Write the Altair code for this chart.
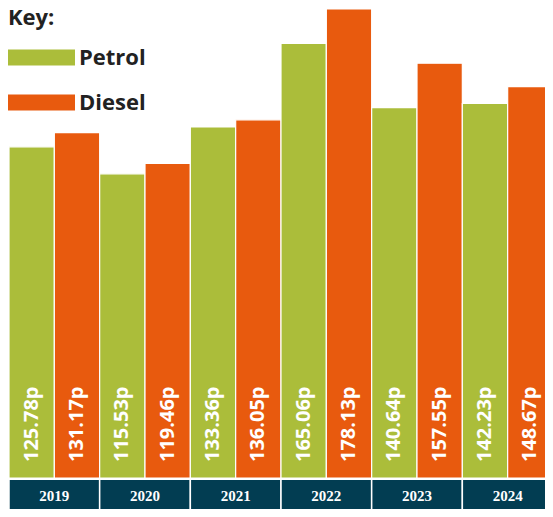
import altair as alt
import pandas as pd

years = ["2019", "2020", "2021", "2022", "2023", "2024"]
petrol = [125.78, 115.53, 133.36, 165.06, 140.64, 142.23]
diesel = [131.17, 119.46, 136.05, 178.13, 157.55, 148.67]
fuels = ["Petrol", "Diesel"]
colors = ["#abbd3a", "#e85a0e"]
band_color = "#023d52"

rows = []
for i, y in enumerate(years):
    rows.append({"year": y, "fuel": "Petrol", "price": petrol[i], "label": f"{petrol[i]:.2f}p"})
    rows.append({"year": y, "fuel": "Diesel", "price": diesel[i], "label": f"{diesel[i]:.2f}p"})
df = pd.DataFrame(rows)
years_df = pd.DataFrame({"year": years})

Y_MIN = -11.77
Y_MAX = 178.51

x_enc = alt.X("year:N", sort=years, axis=None,
              scale=alt.Scale(paddingInner=0, paddingOuter=0, range=[0, 544]))
xoff = alt.XOffset("fuel:N", sort=fuels, scale=alt.Scale(paddingInner=0, paddingOuter=0))
y_scale = alt.Scale(domain=[Y_MIN, Y_MAX], nice=False, zero=False)

bars = alt.Chart(df).mark_bar(stroke="white", strokeWidth=1.2).encode(
    x=x_enc,
    xOffset=xoff,
    y=alt.Y("price:Q", scale=y_scale, axis=None),
    y2=alt.datum(0),
    color=alt.Color("fuel:N", sort=fuels,
                    scale=alt.Scale(domain=fuels, range=colors),
                    legend=alt.Legend(
                        title="Key:", orient="none", legendX=-1, legendY=0,
                        titleFont="Open Sans", titleFontSize=22, titleFontWeight="bold",
                        titleColor="#222222", titlePadding=-6, titleBaseline="top",
                        labelFont="Open Sans", labelFontSize=22, labelFontWeight="bold",
                        labelColor="#222222", labelOffset=4,
                        symbolType="M-1,-0.2388H1V0.2388H-1Z", symbolSize=4489,
                        symbolStrokeWidth=0, symbolOpacity=1, rowPadding=-16,
                    )),
)

labels = alt.Chart(df).mark_text(
    angle=270, align="left", baseline="middle", dx=16,
    font="Open Sans", fontSize=20, fontWeight="bold", color="white",
).encode(
    x=x_enc,
    xOffset=xoff,
    y=alt.datum(0),
    text="label:N",
)

band = alt.Chart(years_df).mark_rect(color=band_color, stroke="white", strokeWidth=1.5).encode(
    x=x_enc,
    y=alt.datum(Y_MIN - 1),
    y2=alt.datum(-0.45),
)

year_text = alt.Chart(years_df).mark_text(
    font="Liberation Serif", fontSize=15, fontWeight="bold", color="white",
    baseline="middle", align="center",
).encode(
    x=x_enc,
    y=alt.datum(-7),
    text="year:N",
)

chart = alt.layer(bars, labels, band, year_text).properties(
    width=536, height=501,
    autosize=alt.AutoSizeParams(type="none"),
    padding={"left": 1, "top": 0, "right": 0, "bottom": 0},
).configure_view(stroke=None)

chart.save("out.html", embed_options={"renderer": "svg", "actions": False})
